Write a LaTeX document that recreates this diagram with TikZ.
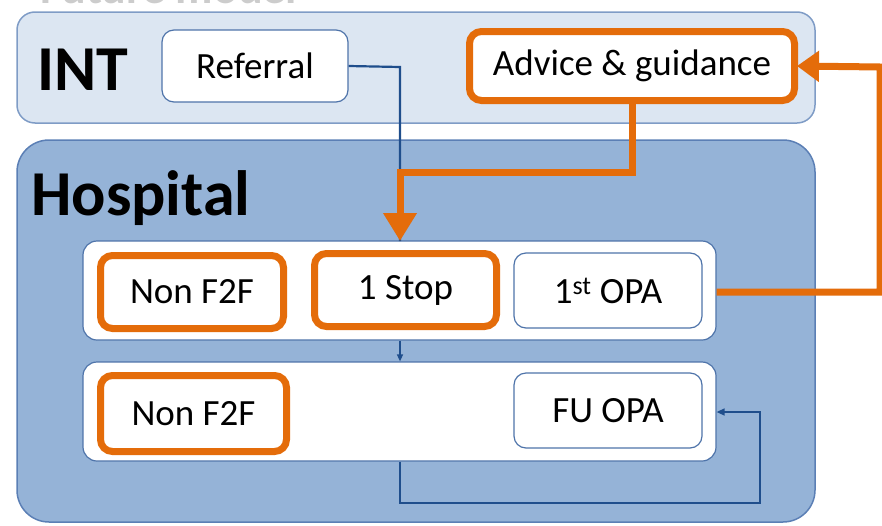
\documentclass[tikz,border=0pt]{standalone}
\usepackage{fontspec}
\setmainfont{Carlito}
\usetikzlibrary{arrows.meta}
\definecolor{orng}{HTML}{E46C0A}
\definecolor{intfill}{HTML}{DCE6F2}
\definecolor{intline}{HTML}{7F9CC6}
\definecolor{hospfill}{HTML}{95B3D7}
\definecolor{hospline}{HTML}{5B7FB5}
\definecolor{bluelink}{HTML}{1F4E8C}
\definecolor{boxline}{HTML}{4F74AA}
\tikzset{
  lbl/.style={font=\fontsize{37}{40}\selectfont},
  wbox/.style={draw=boxline, line width=1.2pt, fill=white, rounded corners=12pt, inner sep=0pt, lbl},
  obox/.style={draw=orng, line width=7pt, fill=white, rounded corners=12pt, inner sep=0pt, lbl},
  rowbox/.style={draw=boxline, line width=1.2pt, fill=white, rounded corners=14pt, inner sep=0pt},
  olink/.style={draw=orng, line width=7pt},
  blink/.style={draw=bluelink, line width=2.2pt},
  title/.style={font=\fontsize{64}{68}\selectfont\bfseries, anchor=base west, inner sep=0pt}
}
\begin{document}
\begin{tikzpicture}[x=1pt,y=-1pt]
\useasboundingbox (0,0) rectangle (882,525);
\begin{scope}
\clip (0,0) rectangle (882,525);
\node[font=\fontsize{46}{50}\selectfont\bfseries, text=gray!40, anchor=base west, inner sep=0pt] (future) at (40,3.5) {Future model};
% INT container
\node[draw=intline, line width=1.5pt, fill=intfill, rounded corners=18pt, minimum width=798pt, minimum height=111pt, inner sep=0pt] (int) at (416,67.5) {};
\node[title] (inttitle) at (37,90) {INT};
% Hospital container
\node[draw=hospline, line width=1.5pt, fill=hospfill, rounded corners=32pt, minimum width=798pt, minimum height=382pt, inner sep=0pt] (hosp) at (416,331) {};
\node[title] (hosptitle) at (31,215) {Hospital};
% INT boxes
\node[wbox, minimum width=186pt, minimum height=72pt] (ref) at (255,66) {Referral};
\node[obox, minimum width=325pt, minimum height=69pt] (adv) at (632,66) {Advice \& guidance};
% rows
\node[rowbox, minimum width=633pt, minimum height=99pt] (row1) at (399.5,290.5) {};
\node[rowbox, minimum width=633pt, minimum height=99pt] (row2) at (399.5,411.5) {};
\node[obox, minimum width=183pt, minimum height=73pt] (nf1) at (192,292) {Non F2F};
\node[obox, minimum width=182pt, minimum height=73pt] (stop) at (405.5,290) {1 Stop};
\node[wbox, minimum width=188pt, minimum height=75pt] (opa1) at (608,290.5) {1\textsuperscript{st} OPA};
\node[obox, minimum width=186pt, minimum height=76pt] (nf2) at (193.5,413.5) {Non F2F};
\node[wbox, minimum width=188pt, minimum height=75pt] (fu) at (608,410.5) {FU OPA};
% connectors
\coordinate (b1) at (400,67);
\coordinate (o1) at (632,172);
\coordinate (o2) at (400,172);
\coordinate (r1) at (880,292);
\coordinate (r2) at (880,67);
\coordinate (l1) at (400,503);
\coordinate (l2) at (760,503);
\coordinate (l3) at (760,412);
\draw[blink] (ref.east) -- (b1) -- (400,241);
\draw[olink, -{Triangle[width=32pt,length=28pt]}] (adv.south) -- (o1) -- (o2) -- (400,241);
\draw[olink, -{Triangle[width=30pt,length=22pt]}] (row1.east |- 0,292) -- (r1) -- (r2) -- ([xshift=-1pt]adv.east);
\draw[draw=bluelink, line width=1.4pt, -{Triangle[width=6pt,length=7pt]}] (row1.south -| 400,0) -- (row2.north -| 400,0);
\draw[draw=bluelink, line width=1.4pt, -{Triangle[width=7pt,length=8pt]}] (row2.south -| 400,0) -- (l1) -- (l2) -- (l3) -- (row2.east |- l3);
\end{scope}
\end{tikzpicture}
\end{document}
